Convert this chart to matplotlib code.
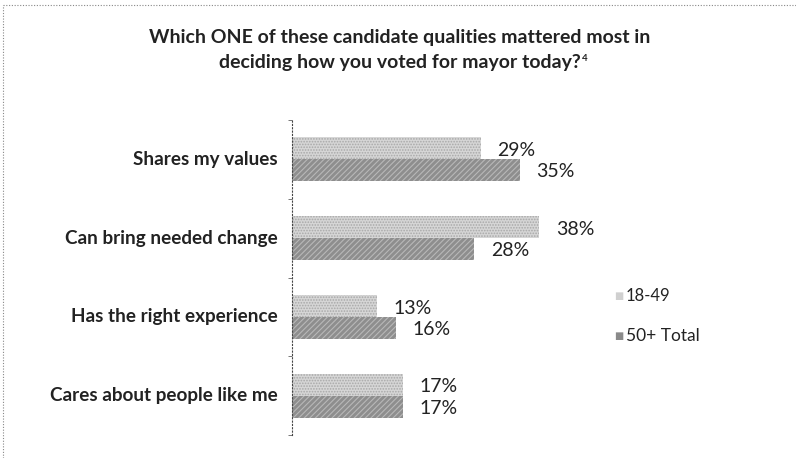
import matplotlib
matplotlib.use("Agg")
import matplotlib.pyplot as plt
from matplotlib.lines import Line2D
import numpy as np

plt.rcParams['hatch.linewidth'] = 0.8

categories = ["Shares my values", "Can bring needed change",
              "Has the right experience", "Cares about people like me"]
young = [29, 38, 13, 17]
older = [35, 28, 16, 17]
series_names = ["18-49", "50+ Total"]

title_line1 = "Which ONE of these candidate qualities mattered most in"
title_line2 = "deciding how you voted for mayor today?"
footnote_mark = "4"

W, H = 796, 458
fig = plt.figure(figsize=(W / 100, H / 100), dpi=100)
fig.patch.set_facecolor("white")

ax = fig.add_axes([292 / W, 23 / H, 325 / W, 315 / H])
ax.set_xlim(0, 50)
ax.set_ylim(3.5, -0.5)

y = np.arange(len(categories))
bh = 0.28
ax.barh(y - bh / 2, young, height=bh, color="#d6d6d6",
        edgecolor="#a8a8a8", hatch="......", linewidth=0)
ax.barh(y + bh / 2, older, height=bh, color="#8e8e8e",
        edgecolor="#b8b8b8", hatch="//////", linewidth=0)

for yi, v in zip(y, young):
    ax.text(v + 2.6, yi - bh / 2 + 0.03, f"{v}%", va="center", ha="left",
            fontsize=14, family="Lato", color="#222222")
for yi, v in zip(y, older):
    ax.text(v + 2.6, yi + bh / 2 + 0.02, f"{v}%", va="center", ha="left",
            fontsize=14, family="Lato", color="#222222")

for s in ["top", "right", "bottom"]:
    ax.spines[s].set_visible(False)
ax.spines["left"].set_linestyle((0, (1, 2)))
ax.spines["left"].set_color("#444444")
ax.spines["left"].set_linewidth(0.8)
ax.set_xticks([])
ax.set_yticks(np.arange(-0.5, 4, 1.0))
ax.set_yticklabels([])
ax.tick_params(axis="y", length=3, width=0.7, color="#777777", direction="out")

for yi, c in zip(y, categories):
    ax.text(-14 / 6.5, yi, c, ha="right", va="center", fontsize=13.6,
            fontweight="bold", family="Lato", color="#222222")

# legend
fig.text(614 / W, 1 - 296 / H, "\u25a0", fontsize=7, color="#d0d0d0",
         ha="left", va="center")
fig.text(626 / W, 1 - 296 / H, series_names[0], fontsize=12, family="Lato",
         ha="left", va="center", color="#222222")
fig.text(614 / W, 1 - 336 / H, "\u25a0", fontsize=7, color="#8a8a8a",
         ha="left", va="center")
fig.text(626 / W, 1 - 336 / H, series_names[1], fontsize=12.5, family="Lato",
         ha="left", va="center", color="#222222")

# title
fig.text(400 / W, 1 - 38 / H, title_line1, ha="center", va="center",
         fontsize=14, fontweight="bold", family="Lato", color="#222222")
t2 = fig.text(400 / W, 1 - 63 / H, title_line2, ha="center",
              va="center", fontsize=14, fontweight="bold", family="Lato",
              color="#222222")
ax.annotate(footnote_mark, xy=(1.0, 1.0), xycoords=t2, xytext=(1, 0),
            textcoords="offset points", fontsize=7, fontweight="bold",
            family="Lato", color="#222222", ha="left", va="top",
            annotation_clip=False)

# dotted frame
fig.add_artist(Line2D([3 / W, 3 / W], [0, 1 - 5 / H], transform=fig.transFigure,
                      color="#888888", lw=0.8, ls=(0, (1, 1.5))))
fig.add_artist(Line2D([3 / W, 1], [1 - 5 / H, 1 - 5 / H], transform=fig.transFigure,
                      color="#888888", lw=0.8, ls=(0, (1, 1.5))))

fig.savefig("out.png", dpi=100)
